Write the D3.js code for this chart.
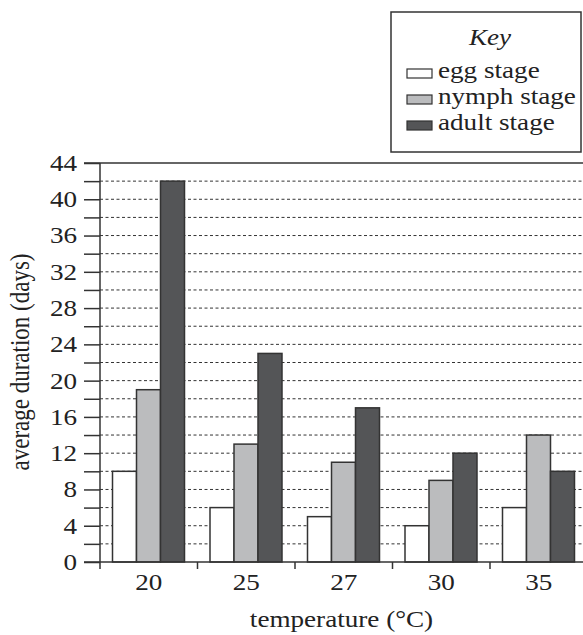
<!DOCTYPE html>
<html>
<head>
<meta charset="utf-8">
<script src="https://cdn.jsdelivr.net/npm/d3@7"></script>
<style>
  body { margin: 0; background: #fff; }
  .grid line { stroke: #333; stroke-width: 1; stroke-dasharray: 3 2.5; }
</style>
</head>
<body>
<svg id="chart" width="583" height="635"></svg>
<script>
const temperatures = ["20", "25", "27", "30", "35"];
const stages = ["egg stage", "nymph stage", "adult stage"];
const eggDays = [10, 6, 5, 4, 6];
const nymphDays = [19, 13, 11, 9, 14];
const adultDays = [42, 23, 17, 12, 10];
const yTicks = d3.range(0, 45, 2);
const stageColors = ["#ffffff", "#bbbcbe", "#545557"];

const FONT = "'Liberation Serif', serif";
const SX = 1.18; // the source print is stretched sideways a bit

const rows = temperatures.map((t, i) => ({
  temp: t,
  values: [eggDays[i], nymphDays[i], adultDays[i]]
}));

const M = { left: 100, top: 163, bottom: 562, right: 583 };
const svg = d3.select("#chart");

const x = d3.scaleBand().domain(temperatures).range([M.left, M.left + 5 * 97.5]);
const x1 = d3.scaleBand().domain(stages).range([12.5, 84.5]);
const y = d3.scaleLinear().domain([0, 44]).range([M.bottom, M.top]);
const color = d3.scaleOrdinal().domain(stages).range(stageColors);

// text placed at (px,py), stretched sideways
const label = (g, txt, px, py, anchor) => g.append("text")
  .attr("transform", `translate(${px},${py}) scale(${SX},1)`)
  .attr("text-anchor", anchor || "start")
  .text(txt);

// dashed gridlines
svg.append("g").attr("class", "grid")
  .selectAll("line")
  .data(yTicks.filter(d => d > 0 && d < 44))
  .join("line")
  .attr("x1", M.left).attr("x2", M.right)
  .attr("y1", d => y(d)).attr("y2", d => y(d));

// top solid line
svg.append("line")
  .attr("x1", M.left - 16).attr("x2", M.right)
  .attr("y1", y(44)).attr("y2", y(44))
  .attr("stroke", "#333").attr("stroke-width", 1.5);

// bars
svg.append("g")
  .selectAll("g")
  .data(rows)
  .join("g")
  .attr("transform", d => `translate(${x(d.temp)},0)`)
  .selectAll("rect")
  .data(d => d.values.map((v, i) => ({ stage: stages[i], value: v })))
  .join("rect")
  .attr("x", d => x1(d.stage))
  .attr("width", x1.bandwidth())
  .attr("y", d => y(d.value))
  .attr("height", d => y(0) - y(d.value))
  .attr("fill", d => color(d.stage))
  .attr("stroke", "#333")
  .attr("stroke-width", 1.5);

// y axis
const yAxis = svg.append("g")
  .attr("transform", `translate(${M.left},0)`)
  .call(d3.axisLeft(y).tickValues(yTicks).tickSize(16).tickPadding(7)
    .tickFormat(d => d % 4 === 0 ? d : ""));
yAxis.attr("font-family", null).attr("font-size", null);
yAxis.select(".domain").remove();
yAxis.selectAll(".tick line").attr("stroke", "#333").attr("stroke-width", 1.5);
yAxis.selectAll(".tick text")
  .attr("x", 0)
  .attr("transform", `translate(-23,0) scale(${SX},1)`);
yAxis.append("line")
  .attr("x1", 0).attr("x2", 0).attr("y1", y(44)).attr("y2", M.bottom + 7)
  .attr("stroke", "#333").attr("stroke-width", 1.5);

// x axis
svg.append("line")
  .attr("x1", M.left - 16).attr("x2", M.right)
  .attr("y1", M.bottom).attr("y2", M.bottom)
  .attr("stroke", "#333").attr("stroke-width", 1.5);
svg.append("g")
  .selectAll("line")
  .data(temperatures.slice(1))
  .join("line")
  .attr("x1", d => x(d)).attr("x2", d => x(d))
  .attr("y1", M.bottom).attr("y2", M.bottom + 7)
  .attr("stroke", "#333").attr("stroke-width", 1.5);

const labels = svg.append("g");
temperatures.forEach(t => label(labels, t, x(t) + x.bandwidth() / 2, 590, "middle"));

// axis titles
label(labels, "temperature (°C)", (M.left + M.right) / 2, 627, "middle");
labels.append("text")
  .attr("transform", `translate(29,362) scale(${SX},1) rotate(-90)`)
  .attr("text-anchor", "middle")
  .text("average duration (days)");

// legend
const legend = svg.append("g");
legend.append("rect")
  .attr("x", 391).attr("y", 12).attr("width", 190).attr("height", 140)
  .attr("fill", "#fff").attr("stroke", "#333").attr("stroke-width", 1.5);
label(legend, "Key", 490, 45, "middle").style("font-style", "italic");
stages.forEach((s, i) => {
  const yy = 78 + i * 26;
  legend.append("rect")
    .attr("x", 407).attr("y", yy - 9).attr("width", 25).attr("height", 9)
    .attr("fill", color(s)).attr("stroke", "#333").attr("stroke-width", 1.2);
  label(legend, s, 438, yy);
});

// same font on every text
svg.selectAll("text")
  .style("font-family", FONT)
  .style("font-size", "23px")
  .attr("fill", "#222");
</script>
</body>
</html>
